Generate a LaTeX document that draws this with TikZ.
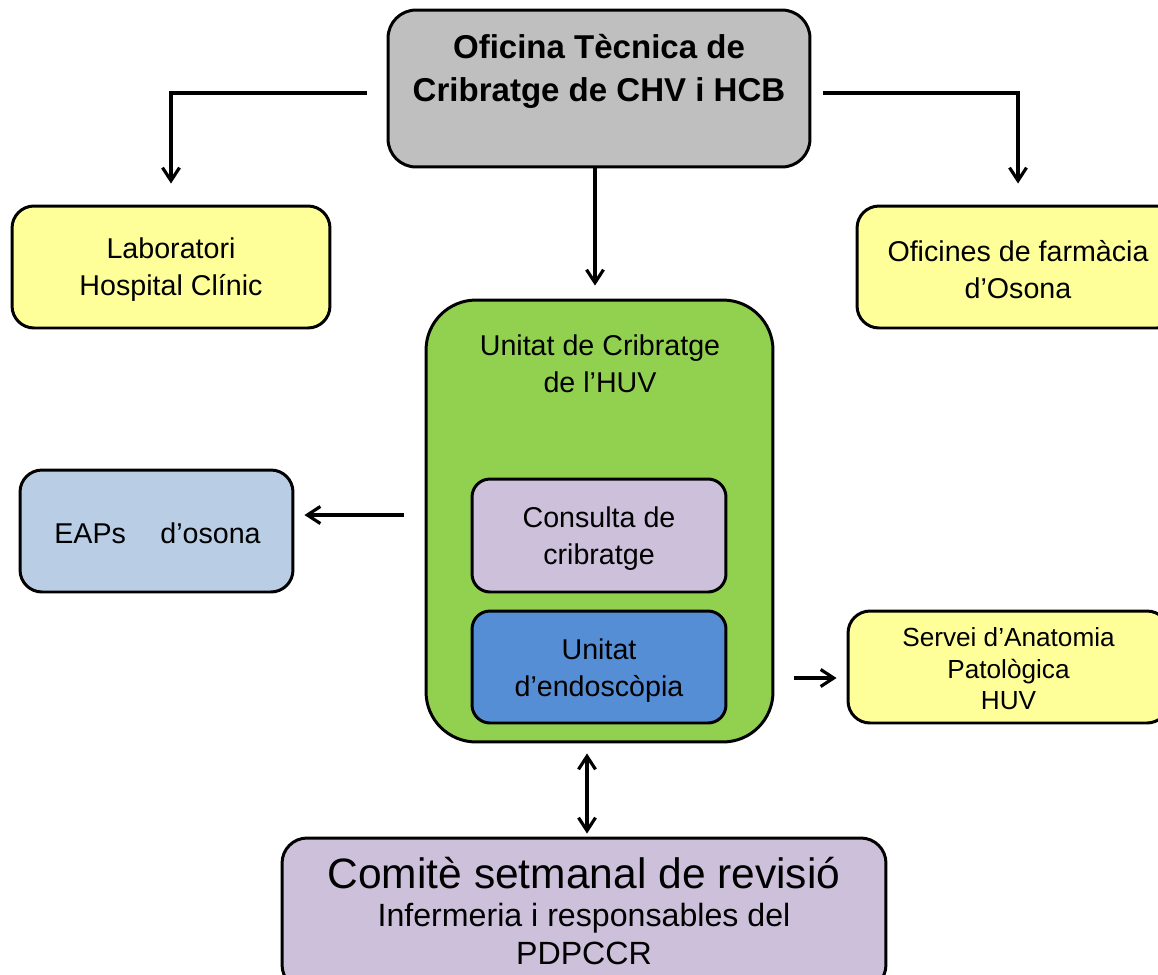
\documentclass[tikz,border=0pt]{standalone}
\usepackage{fontspec}
\setmainfont{Liberation Sans}
\usetikzlibrary{arrows.meta,calc}
\definecolor{grayc}{HTML}{BFBFBF}
\definecolor{yellowc}{HTML}{FFFF99}
\definecolor{greenc}{HTML}{92D050}
\definecolor{lavc}{HTML}{CCC0DA}
\definecolor{bluec}{HTML}{558ED5}
\definecolor{lbluec}{HTML}{B9CDE5}
\begin{document}
\begin{tikzpicture}[x=0.02cm,y=-0.02cm,
  box/.style={draw=black, line width=1.7pt, rounded corners=#1, inner sep=0pt},
  box/.default=0.44cm,
  txt/.style={align=center, inner sep=0pt, font=\fontsize{16.3}{21}\selectfont},
  arr/.style={draw=black, line width=1.8pt, -{Straight Barb[length=0.26cm,width=0.34cm,line width=1.8pt]}},
  darr/.style={draw=black, line width=1.8pt, {Straight Barb[length=0.26cm,width=0.34cm,line width=1.8pt]}-{Straight Barb[length=0.26cm,width=0.34cm,line width=1.8pt]}}
]
\useasboundingbox (0,0) rectangle (1158,974);
\clip (0,0) rectangle (1158,974);

% top office
\node[box=0.56cm, fill=grayc, minimum width=8.44cm, minimum height=3.14cm] (top) at (599,88.5) {};
\node[txt, font=\bfseries\fontsize{18.8}{24.4}\selectfont] (toptxt) at (599,71.5) {Oficina Tècnica de\\Cribratge de CHV i HCB};

% laboratori
\node[box, fill=yellowc, minimum width=6.36cm, minimum height=2.44cm] (lab) at (171,267) {};
\node[txt] (labtxt) at (171,270) {Laboratori\\Hospital Clínic};

% oficines farmacia
\node[box, fill=yellowc, minimum width=6.44cm, minimum height=2.44cm] (farm) at (1018,267) {};
\node[txt] (farmtxt) at (1018,270) {Oficines de farmàcia\\d’Osona};

% green unit
\node[box=1.0cm, fill=greenc, minimum width=6.94cm, minimum height=8.84cm] (unit) at (599.5,521) {};
\node[txt] (unittxt) at (600,364) {Unitat de Cribratge\\de l’HUV};

% consulta
\node[box=0.36cm, fill=lavc, minimum width=5.08cm, minimum height=2.26cm] (cons) at (599,535.5) {};
\node[txt] (constxt) at (599,539) {Consulta de\\cribratge};

% endoscopia
\node[box=0.36cm, fill=bluec, minimum width=5.08cm, minimum height=2.24cm] (endo) at (599,667) {};
\node[txt] (endotxt) at (599,671) {Unitat\\d’endoscòpia};

% EAPs
\node[box, fill=lbluec, minimum width=5.46cm, minimum height=2.44cm] (eap) at (156.5,531) {};
\node[txt] (eaptxt) at (157.5,533) {EAPs\hspace{1.2em}d’osona};

% Servei
\node[box, fill=yellowc, minimum width=6.42cm, minimum height=2.24cm] (serv) at (1008.5,667) {};
\node[txt, font=\fontsize{14.9}{17.9}\selectfont] (servtxt) at (1008.5,669) {Servei d’Anatomia\\Patològica\\HUV};

% Comite
\node[box=0.5cm, fill=lavc, minimum width=12.08cm, minimum height=3.04cm] (com) at (584,914) {};
\node[txt, font=\fontsize{24.2}{24}\selectfont] (comtxt) at (584,873) {Comitè setmanal de revisió};
\node[txt, font=\fontsize{18.3}{21.5}\selectfont] (comsub) at (584,934) {Infermeria i responsables del\\PDPCCR};

% connectors
\draw[arr, shorten <=0.4cm, shorten >=0.42cm] ([yshift=-0.09cm]top.west) -| (lab.north);
\draw[arr, shorten <=0.24cm, shorten >=0.42cm] ([yshift=-0.09cm]top.east) -| (farm.north);
\draw[arr, shorten >=0.26cm] ([xshift=-0.08cm]top.south) -- ([xshift=-0.08cm]top.south |- unit.north);
\draw[arr, shorten <=0.42cm, shorten >=0.2cm] ([yshift=0.12cm]unit.west) -- ([yshift=0.12cm]unit.west -| eap.east);
\draw[arr, shorten <=0.4cm, shorten >=0.2cm] ([yshift=-0.22cm]serv.west -| unit.east) -- ([yshift=-0.22cm]serv.west);
\draw[darr, shorten <=0.2cm, shorten >=0.06cm] ([xshift=-0.25cm]unit.south) -- ([xshift=-0.25cm]unit.south |- com.north);
\end{tikzpicture}
\end{document}
